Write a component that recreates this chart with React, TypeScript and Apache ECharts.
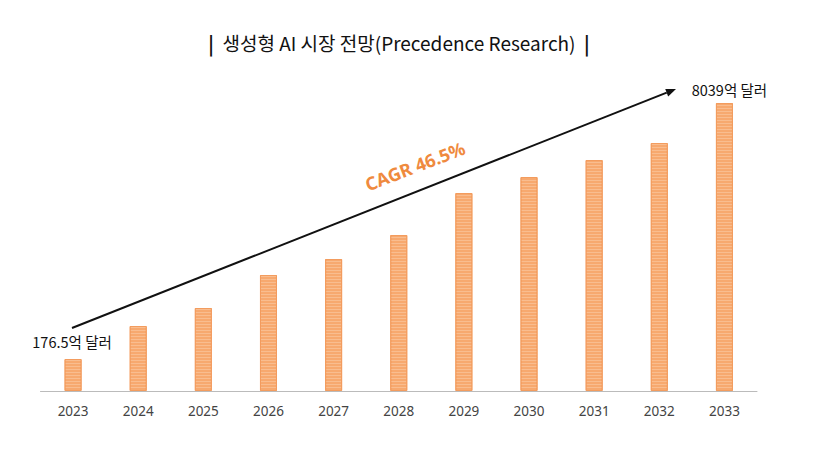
import React, { useEffect, useRef } from "react";
import * as echarts from "echarts";

const years = ["2023", "2024", "2025", "2026", "2027", "2028", "2029", "2030", "2031", "2032", "2033"];
// relative bar heights as drawn in the picture (only first and last values are labelled)
const barHeights = [32, 65, 83, 116, 132, 156, 198, 214, 231, 248, 288];
const endLabels: Record<number, string> = { 0: "176.5억 달러", 10: "8039억 달러" };
const titleText = "생성형 AI 시장 전망(Precedence Research)";
const cagrText = "CAGR 46.5%";

export default function App() {
  const ref = useRef<HTMLDivElement>(null);
  useEffect(() => {
    if (!ref.current) return;
    const chart = echarts.init(ref.current, undefined, { renderer: "svg" });
    const data = barHeights.map((v, i) =>
      endLabels[i]
        ? {
            value: v,
            label: {
              show: true,
              position: "top",
              distance: i === 0 ? 10 : 6,
              offset: i === 0 ? [-1, 0] : [5, 0],
              formatter: endLabels[i],
              color: "#111",
              fontSize: 14.5,
              fontFamily: "'Noto Sans CJK KR', 'Noto Sans', sans-serif",
            },
          }
        : v
    );
    // arrow geometry
    const x1 = 72, y1 = 328, tx = 676, ty = 89;
    const dx = tx - x1, dy = ty - y1;
    const len = Math.sqrt(dx * dx + dy * dy);
    const ux = dx / len, uy = dy / len;
    const nx = -uy, ny = ux;
    const hl = 10, hw = 4;
    const bx = tx - hl * ux, by = ty - hl * uy;
    chart.setOption({
      animation: false,
      title: {
        text: "{bar||}  " + titleText + "  {bar||}",
        left: 394,
        textAlign: "center",
        top: 28,
        textStyle: {
          fontSize: 19,
          fontWeight: "normal",
          color: "#111",
          fontFamily: "'Noto Sans CJK KR', 'Noto Sans', sans-serif",
          rich: {
            bar: {
              fontSize: 19,
              fontWeight: "bold",
              color: "#111",
              fontFamily: "'Noto Sans CJK KR', 'Noto Sans', sans-serif",
            },
          },
        },
      },
      grid: { left: 40.5, right: 72, top: 91, bottom: 61 },
      xAxis: {
        type: "category",
        data: years,
        axisLine: { show: true, lineStyle: { color: "#bbb", width: 1 } },
        axisTick: { show: false },
        axisLabel: {
          color: "#444",
          fontSize: 13.5,
          margin: 13,
          fontFamily: "'Noto Sans', sans-serif",
        },
      },
      yAxis: {
        type: "value",
        min: 0,
        max: 300,
        show: false,
        splitLine: { show: false },
      },
      series: [
        {
          type: "bar",
          data,
          barWidth: 17,
          itemStyle: {
            color: "#F7A96F",
            borderColor: "#F39C5E",
            borderWidth: 1,
            decal: {
              symbol: "rect",
              dashArrayX: [1, 0],
              dashArrayY: [1, 2],
              color: "rgba(255,235,220,0.3)",
            },
          },
        },
      ],
      graphic: [
        {
          type: "line",
          shape: { x1, y1, x2: bx, y2: by },
          style: { stroke: "#111", lineWidth: 2 },
          z: 10,
        },
        {
          type: "polygon",
          shape: {
            points: [
              [tx, ty],
              [bx + hw * nx, by + hw * ny],
              [bx - hw * nx, by - hw * ny],
            ],
          },
          style: { fill: "#111" },
          z: 10,
        },
        {
          type: "text",
          x: 415,
          y: 166,
          rotation: (21 * Math.PI) / 180,
          style: {
            text: cagrText,
            fill: "#EF8A3E",
            font: "bold 18px 'Noto Sans', sans-serif",
            textAlign: "center",
            textVerticalAlign: "middle",
          },
          z: 10,
        },
      ],
    });
    return () => chart.dispose();
  }, []);
  return (
    <div
      ref={ref}
      style={{ position: "absolute", left: 0, top: 0, width: 829, height: 452, background: "#fff" }}
    />
  );
}
